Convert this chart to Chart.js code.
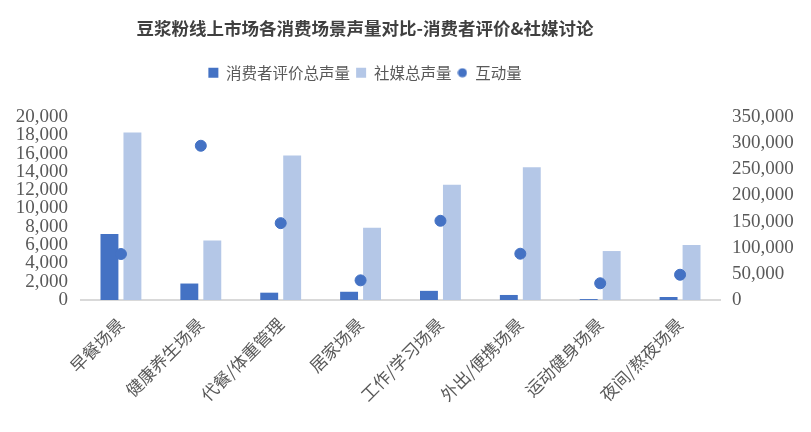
<!DOCTYPE html>
<html>
<head>
<meta charset="utf-8">
<script src="https://cdn.jsdelivr.net/npm/chart.js@4"></script>
<style>
  html, body { margin: 0; padding: 0; background: #fff; }
  #wrap { width: 811px; height: 432px; }
</style>
</head>
<body>
<div id="wrap"><canvas id="chart"></canvas></div>
<script>
const scenes = ['早餐场景', '健康养生场景', '代餐/体重管理', '居家场景', '工作/学习场景', '外出/便携场景', '运动健身场景', '夜间/熬夜场景'];
const reviewVolume = [7200, 1800, 800, 900, 1000, 550, 100, 330];
const socialVolume = [18300, 6500, 15800, 7900, 12600, 14500, 5350, 6000];
const interactions = [88000, 295000, 147000, 37600, 151500, 88500, 32000, 48300];

const cjk = '"Noto Sans CJK SC", sans-serif';
const num = '"Liberation Serif", serif';
const fmt = v => Number(v).toLocaleString('en-US');

// small dot used only for the legend entry of the scatter series
const legendDot = document.createElement('canvas');
legendDot.width = 10;
legendDot.height = 10;
const dctx = legendDot.getContext('2d');
dctx.fillStyle = '#4472C4';
dctx.beginPath();
dctx.arc(5, 5, 4.6, 0, Math.PI * 2);
dctx.fill();

// fixed box sizes so the plot area lands where the reference has it,
// title and legend are centred a bit left of the page centre like the original
const boxSizes = {
  id: 'boxSizes',
  beforeInit(chart) {
    const fit = chart.legend.fit;
    chart.legend.fit = function () {
      fit.call(this);
      this.height = 58;
    };
  },
  afterLayout(chart) {
    [chart.titleBlock, chart.legend].forEach(b => {
      b.left = 0;
      b.right = 730;
      b.width = 730;
    });
  }
};

const ctx = document.getElementById('chart').getContext('2d');
new Chart(ctx, {
  type: 'bar',
  data: {
    labels: scenes,
    datasets: [
      {
        label: '消费者评价总声量',
        data: reviewVolume,
        backgroundColor: '#4472C4',
        yAxisID: 'y',
        pointStyle: 'rect',
        order: 2
      },
      {
        label: '社媒总声量',
        data: socialVolume,
        backgroundColor: '#B4C7E7',
        yAxisID: 'y',
        pointStyle: 'rect',
        order: 2
      },
      {
        type: 'line',
        label: '互动量',
        data: interactions,
        yAxisID: 'y1',
        showLine: false,
        pointStyle: 'circle',
        pointRadius: 5.5,
        pointHoverRadius: 5.5,
        backgroundColor: '#4472C4',
        borderColor: '#4472C4',
        order: 1
      }
    ]
  },
  options: {
    responsive: true,
    maintainAspectRatio: false,
    animation: false,
    layout: { padding: 0 },
    datasets: {
      bar: { categoryPercentage: 0.575, barPercentage: 0.78 }
    },
    plugins: {
      title: {
        display: true,
        text: '豆浆粉线上市场各消费场景声量对比-消费者评价&社媒讨论',
        color: '#404040',
        font: { family: cjk, size: 17.5, weight: 'bold' },
        padding: { top: 18, bottom: 20 }
      },
      legend: {
        position: 'top',
        labels: {
          usePointStyle: true,
          boxWidth: 10,
          boxHeight: 10,
          padding: 6,
          color: '#595959',
          font: { family: cjk, size: 15.5 },
          sort: (a, b) => a.datasetIndex - b.datasetIndex,
          generateLabels(chart) {
            const items = Chart.defaults.plugins.legend.labels.generateLabels(chart);
            items.forEach(it => {
              if (it.datasetIndex === 2) it.pointStyle = legendDot;
            });
            return items;
          }
        }
      },
      tooltip: { enabled: false }
    },
    scales: {
      x: {
        grid: { display: false },
        border: { display: true, color: '#D9D9D9', width: 2 },
        ticks: {
          color: '#595959',
          font: { family: cjk, size: 17 },
          minRotation: 45,
          maxRotation: 45,
          padding: 6
        },
        afterFit(scale) { scale.height = 132; }
      },
      y: {
        position: 'left',
        min: 0,
        max: 20000,
        grid: { display: false },
        border: { display: false },
        ticks: {
          stepSize: 2000,
          autoSkip: false,
          color: '#595959',
          font: { family: num, size: 19 },
          padding: 5,
          callback: fmt
        },
        afterFit(scale) { scale.width = 81; }
      },
      y1: {
        position: 'right',
        min: 0,
        max: 350000,
        grid: { display: false },
        border: { display: false },
        ticks: {
          stepSize: 50000,
          autoSkip: false,
          color: '#595959',
          font: { family: num, size: 19 },
          padding: 4,
          callback: fmt
        },
        afterFit(scale) { scale.width = 91; }
      }
    }
  },
  plugins: [boxSizes]
});
</script>
</body>
</html>
